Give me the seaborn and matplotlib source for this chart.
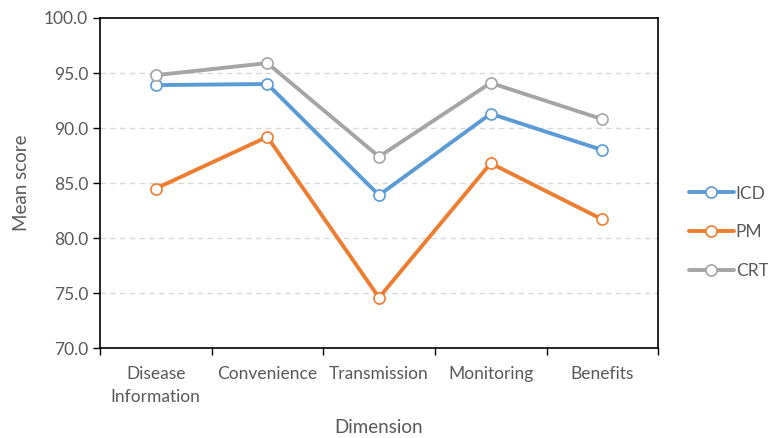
import pandas as pd
import seaborn as sns
import matplotlib.pyplot as plt
from matplotlib.ticker import FixedLocator

dimensions = ["Disease\nInformation", "Convenience", "Transmission", "Monitoring", "Benefits"]
icd = [93.9, 94.0, 83.9, 91.3, 88.0]
pm = [84.5, 89.2, 74.6, 86.8, 81.7]
crt = [94.8, 95.9, 87.4, 94.1, 90.8]

series_names = ["ICD", "PM", "CRT"]
colors = {"ICD": "#5B9BD5", "PM": "#ED7D31", "CRT": "#A5A5A5"}

rows = []
for name, vals in zip(series_names, [icd, pm, crt]):
    for dim, v in zip(dimensions, vals):
        rows.append({"Dimension": dim, "score": v, "series": name})
df = pd.DataFrame(rows)

sns.set_theme(style="white")
plt.rcParams["font.family"] = ["Lato", "DejaVu Sans"]

fig = plt.figure(figsize=(7.68, 4.38), dpi=100)
ax = fig.add_axes([0.130, 0.205, 0.727, 0.754])

sns.lineplot(data=df, x="Dimension", y="score", hue="series", hue_order=series_names,
             palette=colors, linewidth=2.8, marker="o", markersize=8,
             markerfacecolor="white", markeredgewidth=1.2, ax=ax, legend=False)
# marker edges take the line colour
for line, name in zip(ax.get_lines(), series_names):
    line.set_markeredgecolor(colors[name])

ax.set_ylim(70, 100)
ax.set_xlim(-0.5, len(dimensions) - 0.5)
ax.set_yticks([70, 75, 80, 85, 90, 95, 100])
ax.set_yticklabels([f"{v:.1f}" for v in [70, 75, 80, 85, 90, 95, 100]])
ax.set_xticks(range(len(dimensions)))
ax.set_xticklabels(dimensions, linespacing=1.55, va="top")
ax.xaxis.set_minor_locator(FixedLocator([i - 0.5 for i in range(len(dimensions) + 1)]))
ax.tick_params(axis="x", which="major", length=0, pad=13, labelsize=12.5, labelcolor="#595959")
ax.tick_params(axis="x", which="minor", length=5, width=1, color="black", direction="out", bottom=True)
ax.tick_params(axis="y", length=5, width=1, color="black", direction="out", left=True,
               labelsize=12.5, labelcolor="#595959")

for v in [75, 80, 85, 90, 95]:
    ax.axhline(v, color="#D9D9D9", linestyle=(0, (4, 3)), linewidth=1, zorder=0)

for s in ax.spines.values():
    s.set_color("black")
    s.set_linewidth(1.2)

ax.set_xlabel("Dimension", fontsize=13.5, color="#595959", labelpad=10)
ax.set_ylabel("Mean score", fontsize=13.5, color="#595959", labelpad=10)

handles = ax.get_lines()[:3]
leg = fig.legend(handles, series_names, loc="center left", bbox_to_anchor=(0.897, 0.47),
                 frameon=False, handlelength=2.6, labelspacing=1.3, handletextpad=0.1,
                 borderpad=0, borderaxespad=0, fontsize=12.5)
for t in leg.get_texts():
    t.set_color("#595959")

fig.savefig("out.png", dpi=100)
